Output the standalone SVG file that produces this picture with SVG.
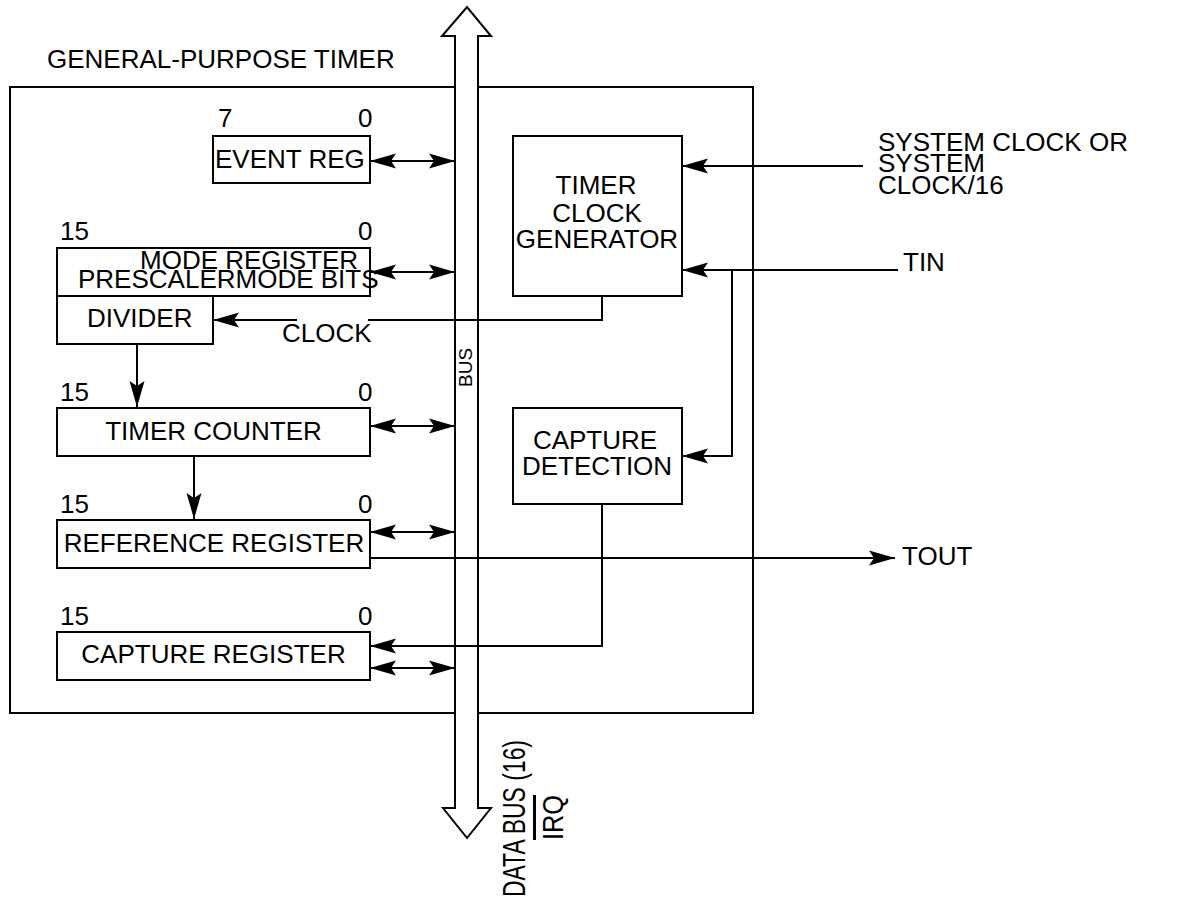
<svg xmlns="http://www.w3.org/2000/svg" width="1182" height="898" viewBox="0 0 1182 898">
<style>
text{font-family:"Liberation Sans",Arial,sans-serif;font-size:26px;fill:#000}
.box{fill:#fff;stroke:#000;stroke-width:2}
.ln{fill:none;stroke:#000;stroke-width:2}
.c{text-anchor:middle}
.sm{font-size:19px}
</style>
<defs>
<marker id="ah" markerUnits="userSpaceOnUse" viewBox="-28 -9 30 18" refX="0" refY="0" markerWidth="30" markerHeight="18" orient="auto-start-reverse">
<path d="M0,0 L-26,-7.5 L-21,0 L-26,7.5 Z" fill="#000"/>
</marker>
</defs>
<rect x="0" y="0" width="1182" height="898" fill="#fff"/>
<text x="47" y="68">GENERAL-PURPOSE TIMER</text>
<rect id="timer" class="box" x="10" y="87" width="743" height="626" fill="none"/>

<g id="bus">
<path d="M455,808 L455,36 L442,36 L467,7 L491,36 L478,36 L478,808 L491,808 L467,838 L443,808 Z" fill="#fff" stroke="#000" stroke-width="2"/>
<text class="sm" transform="translate(472,387) rotate(-90)">BUS</text>
<text transform="translate(525,897) rotate(-90)" textLength="157" lengthAdjust="spacingAndGlyphs" style="font-size:32px">DATA BUS (16)</text>
<text transform="translate(563,840) rotate(-90)" style="text-decoration:overline;font-size:30px" textLength="45" lengthAdjust="spacingAndGlyphs">IRQ</text>
</g>

<g id="event-reg">
<rect class="box" x="213" y="136" width="157" height="47"/>
<text x="215" y="168">EVENT REG</text>
<text x="218" y="127">7</text>
<text x="358" y="127">0</text>
</g>

<g id="mode-register">
<rect class="box" x="57" y="248" width="313" height="48"/>
<text x="60" y="240">15</text>
<text x="358" y="240">0</text>
<text x="140" y="269">MODE REGISTER</text>
<text x="78" y="288">PRESCALERMODE BITS</text>
</g>

<g id="divider">
<rect class="box" x="57" y="296" width="156" height="48"/>
<text x="87" y="327">DIVIDER</text>
</g>

<g id="timer-counter">
<rect class="box" x="57" y="408" width="313" height="48"/>
<text x="60" y="401">15</text>
<text x="358" y="401">0</text>
<text class="c" x="213.5" y="440">TIMER COUNTER</text>
</g>

<g id="reference-register">
<rect class="box" x="57" y="520" width="313" height="48"/>
<text x="60" y="513">15</text>
<text x="358" y="513">0</text>
<text class="c" x="214" y="552">REFERENCE REGISTER</text>
</g>

<g id="capture-register">
<rect class="box" x="57" y="632" width="313" height="48"/>
<text x="60" y="625">15</text>
<text x="358" y="625">0</text>
<text class="c" x="213.5" y="663">CAPTURE REGISTER</text>
</g>

<g id="timer-clock-generator">
<rect class="box" x="513" y="136" width="169" height="160"/>
<text class="c" x="596" y="194">TIMER</text>
<text class="c" x="597" y="222">CLOCK</text>
<text class="c" x="597" y="248">GENERATOR</text>
</g>

<g id="capture-detection">
<rect class="box" x="513" y="408" width="169" height="96"/>
<text class="c" x="595" y="449">CAPTURE</text>
<text class="c" x="597" y="475">DETECTION</text>
</g>

<g id="external-labels">
<text x="878" y="151">SYSTEM CLOCK OR</text>
<text x="878" y="172">SYSTEM</text>
<text x="878" y="194">CLOCK/16</text>
<text x="903" y="271">TIN</text>
<text x="902" y="565">TOUT</text>
<text x="282" y="342">CLOCK</text>
</g>

<g id="connectors">
<line class="ln" x1="370" y1="161" x2="455" y2="161" marker-start="url(#ah)" marker-end="url(#ah)"/>
<line class="ln" x1="370" y1="272" x2="455" y2="272" marker-start="url(#ah)" marker-end="url(#ah)"/>
<line class="ln" x1="370" y1="426" x2="455" y2="426" marker-start="url(#ah)" marker-end="url(#ah)"/>
<line class="ln" x1="370" y1="532" x2="455" y2="532" marker-start="url(#ah)" marker-end="url(#ah)"/>
<line class="ln" x1="370" y1="668" x2="455" y2="668" marker-start="url(#ah)" marker-end="url(#ah)"/>
<line class="ln" x1="137" y1="344" x2="137" y2="407" marker-end="url(#ah)"/>
<line class="ln" x1="194" y1="456" x2="194" y2="519" marker-end="url(#ah)"/>
<polyline class="ln" points="602,296 602,320 368,320"/>
<line class="ln" x1="297" y1="320" x2="213" y2="320" marker-end="url(#ah)"/>
<line class="ln" x1="863" y1="166" x2="682" y2="166" marker-end="url(#ah)"/>
<line class="ln" x1="898" y1="270" x2="682" y2="270" marker-end="url(#ah)"/>
<polyline class="ln" points="732,270 732,456 682,456" marker-end="url(#ah)"/>
<polyline class="ln" points="602,504 602,646 370,646" marker-end="url(#ah)"/>
<line class="ln" x1="370" y1="558" x2="895" y2="558" marker-end="url(#ah)"/>
</g>
</svg>
